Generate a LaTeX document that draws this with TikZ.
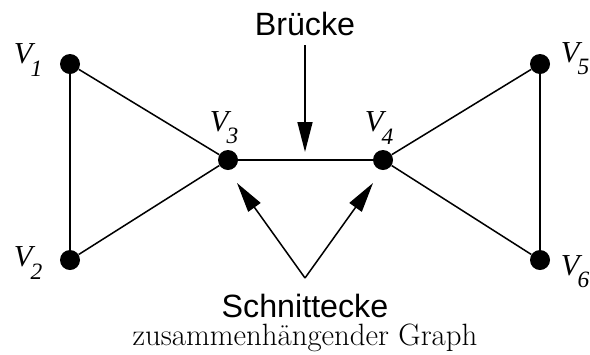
\documentclass[tikz,border=0pt]{standalone}
\usepackage{fontspec}
\setsansfont{Liberation Sans}
\newfontfamily\timesfont{Liberation Serif}
\usetikzlibrary{arrows.meta,calc,positioning}

\newcommand{\vname}[1]{{\timesfont\itshape V\kern-0.06em\raisebox{-0.4em}{\fontsize{20}{22}\selectfont #1}}}

\tikzset{
  vertex/.style={circle, fill=black, inner sep=0pt, minimum size=0.6cm},
  vlabel/.style={font=\fontsize{26}{30}\selectfont, inner sep=0pt},
  edge/.style={line width=1.3pt},
  pointer/.style={line width=1.3pt, -{Triangle[length=0.9cm,width=0.45cm]}},
  caption/.style={font=\sffamily\fontsize{27.5}{30}\selectfont, inner sep=0pt}
}

\begin{document}
\begin{tikzpicture}[x=0.03cm, y=-0.03cm]

  \useasboundingbox (0,0) rectangle (590,354);

  %-------------------------
  % Vertices
  %-------------------------
  \node[vertex] (v1) at (70,64) {};
  \node[vertex] (v2) at (70,260) {};
  \node[vertex] (v3) at (228,160) {};
  \node[vertex] (v4) at (383,160) {};
  \node[vertex] (v5) at (540,64) {};
  \node[vertex] (v6) at (540,260) {};

  % Vertex labels
  \node[vlabel] (l1) at (28,60) {\vname{1}};
  \node[vlabel] (l2) at (28,263) {\vname{2}};
  \node[vlabel] (l3) at (224,128) {\vname{3}};
  \node[vlabel] (l4) at (379,128) {\vname{4}};
  \node[vlabel] (l5) at (575,59) {\vname{5}};
  \node[vlabel] (l6) at (575,272) {\vname{6}};

  %-------------------------
  % Edges
  %-------------------------
  \draw[edge] (v1) -- (v2);
  \draw[edge] (v1) -- (v3);
  \draw[edge] (v2) -- (v3);
  \draw[edge] (v3) -- (v4);
  \draw[edge] (v4) -- (v5);
  \draw[edge] (v4) -- (v6);
  \draw[edge] (v5) -- (v6);

  %-------------------------
  % Annotations
  %-------------------------
  \node[caption] (bruecke) at (305,24) {Brücke};
  \coordinate (btip) at (305,152);
  \draw[pointer] (305,45) -- (btip);

  \node[caption] (schnitt) at (305,306) {Schnittecke};
  \coordinate (fork) at (305,278);
  \coordinate (t3) at (237,183);
  \coordinate (t4) at (373,183);
  \draw[pointer] (fork) -- (t3);
  \draw[pointer] (fork) -- (t4);

  \node[font=\fontsize{26.3}{30}\selectfont, inner sep=0pt] (graph) at (305,338)
    {zusammenhängender Graph};

\end{tikzpicture}
\end{document}
